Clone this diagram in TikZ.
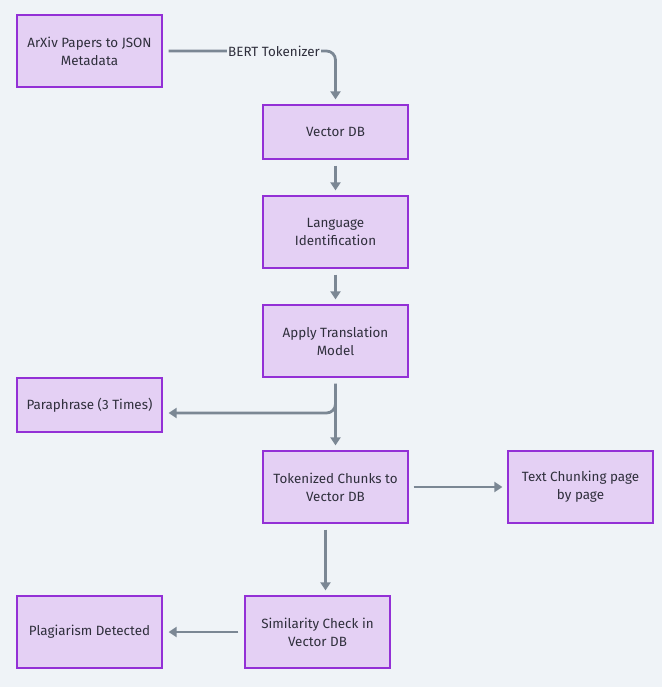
\documentclass[tikz,border=0pt]{standalone}
\usepackage{fontspec}
\setmainfont{Fira Sans}
\usetikzlibrary{arrows.meta}
\definecolor{bg}{HTML}{EFF3F7}
\definecolor{boxfill}{HTML}{E4D0F4}
\definecolor{boxline}{HTML}{9330D6}
\definecolor{arr}{HTML}{7B8794}
\definecolor{txt}{HTML}{2F2F3C}
\begin{document}
\begin{tikzpicture}[x=1pt,y=-1pt,
  box/.style={draw=boxline,fill=boxfill,line width=1.3pt,minimum width=145pt,inner sep=0pt,align=center,text=txt,font=\fontsize{13.4}{18}\selectfont},
  tall/.style={box,minimum height=72pt},
  short/.style={box,minimum height=54pt},
  conn/.style={draw=arr,line width=2.8pt,-{Triangle[length=8pt,width=10pt]},rounded corners=9pt},
  lbl/.style={fill=bg,text=txt,inner sep=1.5pt,font=\fontsize{13.4}{14}\selectfont}]
\fill[bg] (0,0) rectangle (662,687);
\useasboundingbox (0,0) rectangle (662,687);
\node[tall] (arxiv) at (89.5,51) {ArXiv Papers to JSON\\Metadata};
\node[short] (vdb) at (335.5,132) {Vector DB};
\node[tall] (lang) at (335.5,232) {Language\\Identification};
\node[tall] (apply) at (335.5,341) {Apply Translation\\Model};
\node[short] (para) at (89.5,405) {Paraphrase (3 Times)};
\node[tall] (tok) at (335.5,487) {Tokenized Chunks to\\Vector DB};
\node[tall] (chunk) at (580.5,487) {Text Chunking page\\by page};
\node[tall] (sim) at (317.5,632) {Similarity Check in\\Vector DB};
\node[tall] (plag) at (89.5,632) {Plagiarism Detected};
\coordinate (c1) at (335.5,51);
\draw[conn] ([xshift=6pt]arxiv.east) -- (c1) -- ([yshift=5pt]vdb.north);
\node[lbl] (bert) at (274,51) {BERT Tokenizer};
\draw[conn] ([yshift=-6pt]vdb.south) -- ([yshift=5pt]lang.north);
\draw[conn] ([yshift=-6pt]lang.south) -- ([yshift=5pt]apply.north);
\coordinate (c2) at (335.5,413);
\draw[conn] ([yshift=-6pt]apply.south) -- (c2) -- ([xshift=6pt]para.east |- c2);
\draw[conn] ([yshift=-6pt]apply.south) -- ([yshift=5pt]tok.north);
\draw[conn] ([xshift=5pt]tok.east) -- ([xshift=-5pt]chunk.west);
\draw[conn] ([xshift=-10pt,yshift=-6pt]tok.south) -- ([xshift=-10pt,yshift=5pt]tok.south |- sim.north);
\draw[conn] ([xshift=-6pt]sim.west) -- ([xshift=6pt]plag.east);
\end{tikzpicture}
\end{document}
